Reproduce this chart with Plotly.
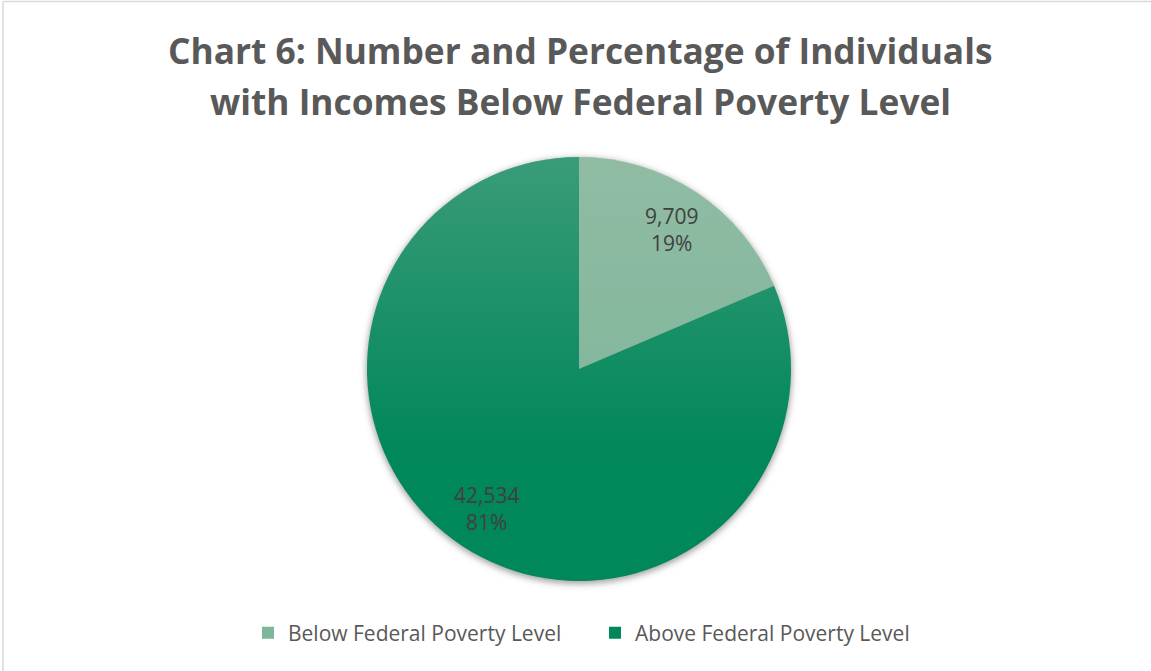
import math
import plotly.graph_objects as go

categories = ["Below Federal Poverty Level", "Above Federal Poverty Level"]
counts = [9709, 42534]
colors = ["#7fb69a", "#00875a"]

W, H = 1151, 671
cx, cy, R = 579, 369, 212  # pie centre / radius in pixels

total = sum(counts)

fig = go.Figure(go.Pie(
    labels=categories,
    values=counts,
    sort=False,
    direction="clockwise",
    rotation=0,
    marker=dict(colors=colors, line=dict(width=0)),
    textinfo="none",
    hoverinfo="label+value+percent",
    domain=dict(x=[(cx - R) / W, (cx + R) / W],
                y=[(H - cy - R) / H, (H - cy + R) / H]),
))

# soft drop shadow behind the pie
shadow_svg = (
    "<svg xmlns='http://www.w3.org/2000/svg' width='480' height='480'>"
    "<defs><filter id='b' x='-20%' y='-20%' width='140%' height='140%'>"
    "<feGaussianBlur stdDeviation='3'/></filter></defs>"
    "<circle cx='240' cy='242' r='213' fill='rgba(90,90,90,0.55)' filter='url(%23b)'/>"
    "</svg>"
)
fig.add_layout_image(
    source="data:image/svg+xml;utf8," + shadow_svg,
    xref="paper", yref="paper",
    x=(cx - 240) / W, y=(H - cy + 240) / H,
    sizex=480 / W, sizey=480 / H,
    xanchor="left", yanchor="top",
    sizing="stretch", layer="below",
)

# light vertical sheen over the pie (lighter at the top)
sheen_svg = (
    f"<svg xmlns='http://www.w3.org/2000/svg' width='{2 * R}' height='{2 * R}'>"
    "<defs><linearGradient id='g' x1='0' y1='0' x2='0' y2='1'>"
    "<stop offset='0' stop-color='rgb(180,200,185)' stop-opacity='0.32'/>"
    "<stop offset='0.7' stop-color='rgb(180,200,185)' stop-opacity='0'/>"
    "</linearGradient></defs>"
    f"<circle cx='{R}' cy='{R}' r='{R}' fill='url(%23g)'/>"
    "</svg>"
)
fig.add_layout_image(
    source="data:image/svg+xml;utf8," + sheen_svg,
    xref="paper", yref="paper",
    x=(cx - R) / W, y=(H - cy + R) / H,
    sizex=2 * R / W, sizey=2 * R / H,
    xanchor="left", yanchor="top",
    sizing="stretch", layer="above",
)

# data labels placed along each slice's bisector
start = 0.0
for v in counts:
    frac = v / total
    mid = 2 * math.pi * (start + frac / 2)
    start += frac
    px = cx + 0.79 * R * math.sin(mid)
    py = cy - 0.79 * R * math.cos(mid)
    fig.add_annotation(
        text=f"{v:,}<br>{round(100 * frac)}%",
        xref="paper", yref="paper", x=px / W, y=(H - py) / H,
        xanchor="center", yanchor="middle", showarrow=False,
        font=dict(family="Open Sans", size=21, color="#404040"),
    )

title_lines = ["Chart 6: Number and Percentage of Individuals",
               "with Incomes Below Federal Poverty Level"]
for line, ty in zip(title_lines, [50, 101]):
    fig.add_annotation(
        text=f"<b>{line}</b>",
        xref="paper", yref="paper", x=580 / W, y=(H - ty) / H,
        xanchor="center", yanchor="middle", showarrow=False,
        font=dict(family="Open Sans", size=35.3, color="#595959"),
    )

# chart frame
fig.add_shape(type="line", xref="paper", yref="paper",
              x0=3 / W, x1=1, y0=(H - 1.5) / H, y1=(H - 1.5) / H,
              line=dict(color="#d9d9d9", width=1.5))
fig.add_shape(type="line", xref="paper", yref="paper",
              x0=3 / W, x1=3 / W, y0=0, y1=(H - 1.5) / H,
              line=dict(color="#d9d9d9", width=1.5))

fig.update_layout(
    width=W, height=H,
    margin=dict(l=0, r=0, t=0, b=0),
    paper_bgcolor="white",
    plot_bgcolor="white",
    showlegend=True,
    legend=dict(
        orientation="h",
        x=248 / W, xanchor="left",
        y=(H - 633) / H, yanchor="middle",
        font=dict(family="Open Sans", size=21, color="#595959"),
        itemsizing="constant",
        traceorder="normal",
        entrywidth=302,
    ),
)

fig.write_html("out.html")
